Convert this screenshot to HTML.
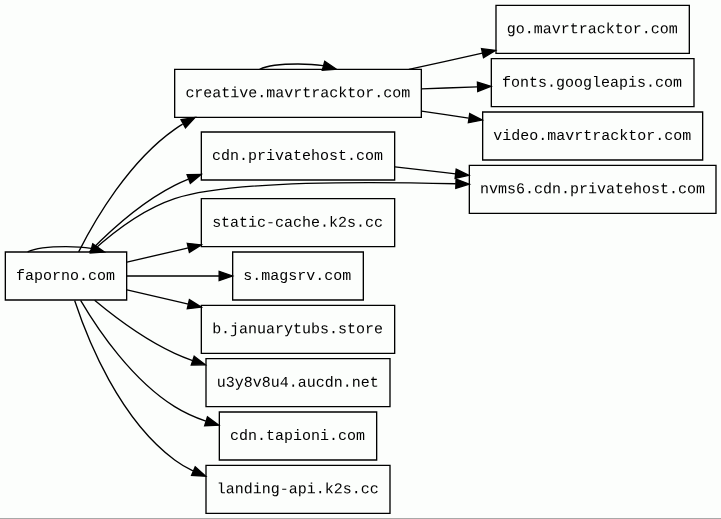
<!DOCTYPE html>
<html><head><meta charset="utf-8"><style>
html,body{margin:0;padding:0;background:#fcfefc;overflow:hidden;width:721px;height:519px;position:relative;}
svg{display:block;position:absolute;left:0;top:0;will-change:transform;}
path,polygon{fill:none;stroke:#000;}
polygon.a{fill:#000;}
text{font-family:"Liberation Mono",monospace;font-size:11.248px;fill:#000;}
.b2{position:absolute;left:0;top:518px;width:721px;height:1px;background:#a8a9a8;}
</style></head><body>
<svg width="721.333" height="518.667" viewBox="0 0 541 389">
<g transform="translate(4 385)">

<polygon points="91,-196 0,-196 0,-160 91,-160 91,-196"/>
<text x="8.000" y="-175.238">faporno.com</text>
<path d="M16.73,-196.04C21.64,-198.42 31.23,-200 45.5,-200 53.08,-200 59.34,-199.55 64.28,-198.78"/>
<polygon class="a" points="65.55,-202.06 74.27,-196.04 63.7,-195.31 65.55,-202.06"/>
<polygon points="312,-333 127,-333 127,-297 312,-297 312,-333"/>
<text transform="translate(135.031 -312.134) matrix(1 0.001 0 1 0 0)">creative.mavrtracktor.com</text>
<path d="M54.98,-196.08C67.37,-220.54 92.74,-263.9 127,-288 128.93,-289.35 130.92,-290.64 132.97,-291.87"/>
<polygon class="a" points="131.79,-295.21 142.26,-296.83 135.09,-289.03 131.79,-295.21"/>
<polygon points="292,-286 147,-286 147,-250 292,-250 292,-286"/>
<text x="155.094" y="-265.238">cdn.privatehost.com</text>
<path d="M62.98,-196.03C78.15,-211.54 102.03,-233.36 127,-246 130.33,-247.69 133.79,-249.25 137.34,-250.69"/>
<polygon class="a" points="136.3,-254.04 146.89,-254.24 138.74,-247.48 136.3,-254.04"/>
<polygon points="533,-261 348,-261 348,-225 533,-225 533,-261"/>
<text transform="translate(356.094 -240.134) matrix(1 0.001 0 1 0 0)">nvms6.cdn.privatehost.com</text>
<path d="M64.8,-196.21C80.01,-210.02 102.99,-227.95 127,-236 164.73,-248.65 261.8,-249.1 337.83,-247.18"/>
<polygon class="a" points="338.04,-250.68 347.94,-246.91 337.85,-243.68 338.04,-250.68"/>
<polygon points="292,-236 147,-236 147,-200 292,-200 292,-236"/>
<text transform="translate(155.094 -215.020) matrix(1 0.001 0 1 0 0)">static&#45;cache.k2s.cc</text>
<path d="M91.24,-188.41C105.34,-191.68 121.37,-195.41 137.19,-199.09"/>
<polygon class="a" points="136.46,-202.51 147,-201.37 138.05,-195.7 136.46,-202.51"/>
<polygon points="268.5,-196 170.5,-196 170.5,-160 268.5,-160 268.5,-196"/>
<text x="178.438" y="-175.238">s.magsrv.com</text>
<path d="M91.24,-178C112.3,-178 137.69,-178 160.23,-178"/>
<polygon class="a" points="160.36,-181.5 170.36,-178 160.36,-174.5 160.36,-181.5"/>
<polygon points="292,-156 147,-156 147,-120 292,-120 292,-156"/>
<text transform="translate(155.094 -135.114) matrix(1 0.001 0 1 0 0)">b.januarytubs.store</text>
<path d="M91.24,-167.59C105.34,-164.32 121.37,-160.59 137.19,-156.91"/>
<polygon class="a" points="138.05,-160.3 147,-154.63 136.46,-153.49 138.05,-160.3"/>
<polygon points="288.5,-116 150.5,-116 150.5,-80 288.5,-80 288.5,-116"/>
<text transform="translate(158.656 -95.017) matrix(1 0.001 0 1 0 0)">u3y8v8u4.aucdn.net</text>
<path d="M66.95,-159.81C82.43,-146.93 104.77,-130.2 127,-120 131.32,-118.02 135.84,-116.2 140.46,-114.54"/>
<polygon class="a" points="141.67,-117.83 150.05,-111.34 139.45,-111.19 141.67,-117.83"/>
<polygon points="278.5,-76 160.5,-76 160.5,-40 278.5,-40 278.5,-76"/>
<text x="168.500" y="-55.238">cdn.tapioni.com</text>
<path d="M56.45,-159.76C69.6,-137.43 94.9,-100.1 127,-80 134.17,-75.51 142.17,-71.94 150.39,-69.1"/>
<polygon class="a" points="151.58,-72.39 160.09,-66.08 149.5,-65.71 151.58,-72.39"/>
<polygon points="288.5,-36 150.5,-36 150.5,0 288.5,0 288.5,-36"/>
<text transform="translate(158.656 -15.111) matrix(1 0.001 0 1 0 0)">landing&#45;api.k2s.cc</text>
<path d="M51.98,-159.59C61.86,-129.68 85.6,-70.78 127,-40 131.23,-36.85 135.86,-34.15 140.7,-31.83"/>
<polygon class="a" points="142.39,-34.91 150.25,-27.82 139.67,-28.46 142.39,-34.91"/>
<path d="M190.73,-333.04C195.64,-335.42 205.23,-337 219.5,-337 227.08,-337 233.34,-336.55 238.28,-335.78"/>
<polygon class="a" points="239.55,-339.06 248.27,-333.04 237.7,-332.31 239.55,-339.06"/>
<polygon points="513,-381 368,-381 368,-345 513,-345 513,-381"/>
<text transform="translate(376.156 -360.114) matrix(1 0.001 0 1 0 0)">go.mavrtracktor.com</text>
<path d="M302.67,-333.01C320.69,-336.96 339.77,-341.14 357.78,-345.09"/>
<polygon class="a" points="357.14,-348.53 367.66,-347.25 358.64,-341.69 357.14,-348.53"/>
<polygon points="516.5,-341 364.5,-341 364.5,-305 516.5,-305 516.5,-341"/>
<text transform="translate(372.594 -320.024) matrix(1 0.001 0 1 0 0)">fonts.googleapis.com</text>
<path d="M312.11,-318.35C325.93,-318.85 340.14,-319.37 353.84,-319.87"/>
<polygon class="a" points="354.07,-323.38 364.19,-320.25 354.32,-316.39 354.07,-323.38"/>
<polygon points="523,-301 358,-301 358,-265 523,-265 523,-301"/>
<text x="366.031" y="-280.238">video.mavrtracktor.com</text>
<path d="M312.11,-301.61C323.8,-299.91 335.78,-298.16 347.48,-296.45"/>
<polygon class="a" points="348.29,-299.87 357.68,-294.96 347.27,-292.94 348.29,-299.87"/>
<path d="M292.21,-259.81C306.74,-258.16 322.28,-256.38 337.62,-254.63"/>
<polygon class="a" points="338.13,-258.1 347.67,-253.48 337.33,-251.14 338.13,-258.1"/>
</g>
</svg>
<div class="b2"></div>
</body></html>
